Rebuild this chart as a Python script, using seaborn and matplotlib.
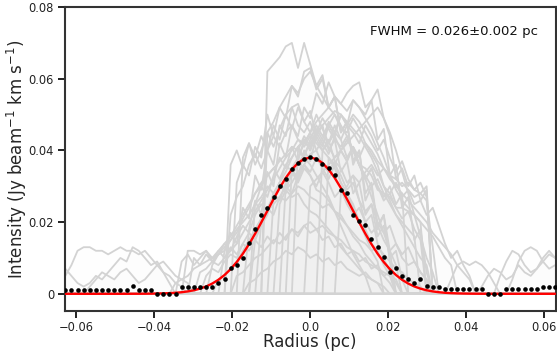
import numpy as np
import pandas as pd
import matplotlib
matplotlib.use("Agg")
import matplotlib.pyplot as plt
import seaborn as sns

# ---------------- data ----------------
STEP = 0.00157                      # radial sampling (pc)
k_index = np.arange(-40, 41)
radius = k_index * STEP

# mean radial profile (black dots), units of 1e-3 Jy beam^-1 km s^-1
mean_profile = [
    1.1, 1.1, 1.1, 1.1, 1.1, 1.1, 1.1, 1.1, 1.1, 1.1, 1.1,      # k=-40..-30
    2.1, 1.1, 1.1, 1.1,                                          # -29..-26
    -0.1, -0.1, -0.1, -0.1,                                      # -25..-22
    2.0, 2.0, 2.0, 2.0, 2.0,                                     # -21..-17
    1.8, 3.0, 4.2, 7.1, 8.0, 10.0, 14.1, 18.0, 22.0, 24.0,       # -16..-7
    27.0, 30.0, 31.9, 34.9, 36.6, 37.7, 38.1, 37.6, 36.1, 35.2,  # -6..3
    33.0, 28.9, 28.1, 21.9, 20.4, 19.1, 15.2, 13.1, 10.2, 6.1,   # 4..13
    7.2, 5.1, 4.2, 3.1, 4.2, 2.2, 2.0, 2.0,                      # 14..21
    1.2, 1.2, 1.2, 1.2, 1.2, 1.2, 1.2,                           # 22..28
    -0.1, -0.1, -0.1,                                            # 29..31
    1.2, 1.2, 1.2, 1.2, 1.2, 1.2,                                # 32..37
    2.0, 2.0, 2.0,                                               # 38..40
]

# individual cut profiles (grey): (first sample index k, values in 1e-3 units)
profile_segments = [
    (-7, [62, 64, 66, 69, 70, 63, 70, 64, 58, 61, 52, 55, 45, 48, 36, 40, 26, 30, 18, 22, 9]),
    (-12, [31, 36, 33, 41, 38, 50, 44, 52, 49, 58, 55, 62, 63, 57, 60, 52, 55, 45, 48, 37, 40, 28, 31, 19, 22, 12]),
    (-10, [18, 26, 22, 34, 30, 42, 38, 47, 44, 52, 49, 56, 53, 59, 55, 53, 56, 58, 59, 52, 54, 43, 46, 33, 36, 24, 27, 15, 18, 6]),
    (-6, [26, 31, 28, 35, 32, 40, 37, 44, 41, 47, 44, 50, 47, 54, 52, 50, 54, 57, 49, 44, 32, 35, 30, 33, 26, 29]),
    (-14, [12, 17, 14, 24, 21, 33, 29, 40, 36, 47, 44, 52, 53, 48, 51, 44, 47, 40, 43, 34, 37, 28, 31, 22, 25, 16, 19, 10, 12, 4]),
    (-11, [38, 42, 36, 40, 45, 41, 46, 50, 52, 47, 45, 48, 43, 40, 43, 37, 35, 31, 33, 26, 20, 22, 14, 10, 6]),
    (-13, [22, 27, 30, 36, 39, 35, 40, 44, 41, 45, 47, 43, 42, 45, 40, 36, 34, 37, 31, 28, 25, 20, 18, 14, 12, 8, 5]),
    (-9, [15, 19, 22, 28, 31, 36, 38, 41, 43, 40, 45, 49, 46, 43, 41, 44, 40, 36, 33, 30, 32, 28, 25, 22, 20, 18, 16]),
    (-8, [20, 24, 27, 31, 34, 38, 41, 38, 43, 47, 44, 47, 50, 46, 45, 49, 46, 42, 40, 37, 35, 33, 32, 30, 31, 29, 28, 30]),
    (-5, [25, 29, 31, 34, 36, 39, 40, 43, 41, 38, 40, 43, 40, 36, 35, 33, 29, 28, 27, 24, 24, 23, 22, 20]),
    (-16, [8, 11, 12, 15, 17, 21, 24, 28, 30, 33, 35, 32, 36, 34, 31, 35, 33, 29, 28, 26, 23, 22, 19, 16, 14, 11, 9, 7, 5, 3]),
    (-20, [12, 12, 11, 12, 10, 11, 13, 15, 18, 20, 22, 25, 27, 30, 28, 31, 29, 27, 28, 25, 23, 22, 20, 18, 16, 13, 11, 9, 7, 5, 4, 3]),
    (-15, [4, 5, 7, 9, 12, 15, 18, 21, 23, 25, 27, 26, 28, 30, 29, 27, 26, 24, 25, 23, 21, 19, 17, 15, 14, 12, 13, 11, 9, 7, 6, 4, 3, 2]),
    (-12, [5, 6, 8, 10, 11, 13, 15, 14, 16, 18, 17, 19, 20, 18, 19, 17, 16, 15, 13, 12, 11, 9, 8, 7, 6, 5, 4]),
    (-10, [3, 4, 6, 7, 9, 10, 12, 11, 13, 12, 10, 11, 9, 10, 8, 9, 7, 6, 5, 6, 4, 3, 2]),
    (-3, [35, 38, 42, 45, 48, 50, 52, 55, 53, 51, 54, 52, 49, 46, 42, 38, 33, 29, 26, 24, 22, 20, 18, 16, 13, 10, 8]),
    (2, [40, 42, 45, 43, 47, 50, 48, 45, 42, 39, 35, 33, 30, 28, 26, 24, 22, 20, 17, 15, 13, 11, 8, 6, 4]),
    (-18, [6, 7, 9, 8, 10, 12, 14, 17, 20, 23, 26, 29, 32, 35, 38, 40, 43, 41, 44, 42, 40, 38, 35, 31, 28, 24, 20, 16, 12, 9]),
    (-4, [30, 33, 36, 39, 42, 45, 47, 49, 51, 50, 48, 46, 44, 41, 38, 34, 30, 26, 22, 19, 16, 13, 10, 8]),
    (-22, [3, 4, 5, 7, 8, 9, 10, 12, 14, 16, 19, 22, 25, 28, 31, 33, 35, 37, 39, 41, 40, 38, 36, 33, 30, 27, 23, 19, 15, 11, 8, 5]),
    (-7, [45, 48, 52, 55, 58, 56, 60, 62, 58, 55, 52, 50, 47, 44, 40, 36, 32, 27, 22, 17, 12, 8]),
    (0, [30, 32, 34, 36, 38, 40, 42, 44, 46, 48, 50, 52, 49, 45, 40, 34, 28, 22, 16, 10, 6]),
    (5, [28, 30, 33, 31, 34, 36, 33, 35, 32, 30, 31, 29, 27, 28, 26, 13]),
    (-13, [36, 40, 35, 42, 38, 44, 40, 47, 43, 50, 46, 52, 48, 45, 50, 46, 42, 47, 43, 38, 41, 36, 32, 35, 30, 27, 30, 25, 28]),
    (-21, [9, 11, 8, 10, 12, 9, 11, 14, 12, 16, 19, 17, 22, 25, 23, 28, 26, 31, 34, 32, 36, 33, 30, 34, 31, 27, 29, 25, 22, 24, 20, 17, 19, 15, 12, 14, 10, 8, 9, 6, 4]),
    (-2, [40, 44, 41, 46, 43, 48, 45, 50, 47, 45, 42, 47, 44, 40, 43, 38, 34, 37, 32, 29, 31, 27]),
    (-17, [5, 7, 6, 9, 11, 10, 14, 17, 15, 20, 24, 22, 27, 30, 28, 33, 36, 34, 38, 35, 32, 36, 33, 29, 31, 26, 23, 25, 20, 17, 19, 14, 11, 13, 9, 6, 4]),
    (3, [38, 36, 40, 37, 41, 38, 42, 39, 36, 30, 28, 31, 27, 29, 25, 26, 22, 24, 19, 14, 10, 12, 8, 5]),
    (-19, [10, 8, 11, 9, 12, 10, 13, 11, 14, 12, 15, 13, 16, 14, 17, 15, 18, 16, 19, 17, 18, 15, 16, 13, 14, 11, 12, 9, 10, 7, 8, 5, 6, 3]),
    (-9, [25, 30, 27, 33, 38, 35, 41, 37, 43, 40, 45, 42, 39, 44, 40, 37, 41, 36, 32, 35, 30, 26, 28, 24, 21, 23, 18, 15]),
    (23, [4, 8, 9, 8, 9, 8, 6, 3, 0, 0, 4, 9, 12, 13, 12, 9, 7, 8]),
    (31, [5, 9, 12, 11, 8, 6, 7, 10, 12, 10]),
    (28, [2, 5, 7, 6, 4, 5, 8, 6, 5, 7, 9, 11, 10]),
    (-40, [5, 8, 12, 13, 13, 12, 12, 11, 12, 13, 12, 12, 11, 12, 10, 8, 6, 3]),
    (-40, [7, 5, 3, 2, 3, 5, 4, 6, 8, 10, 9, 13, 12, 10, 8, 9, 6, 5, 3, 2]),
    (-36, [2, 4, 6, 5, 4, 6, 7, 5, 3, 4, 6, 8, 9, 7, 5, 4, 3]),
]

# Gaussian fit parameters
fit_amplitude = 0.038
fit_center = 0.0
fit_fwhm = 0.026
fit_fwhm_err = 0.002

x_ticks = [-0.06, -0.04, -0.02, 0.0, 0.02, 0.04, 0.06]
x_tick_labels = ["\u22120.06", "\u22120.04", "\u22120.02", "0.0", "0.02", "0.04", "0.06"]
y_ticks = [0.0, 0.02, 0.04, 0.06, 0.08]
y_tick_labels = ["0", "0.02", "0.04", "0.06", "0.08"]

# ---------------- build tables ----------------
rows = []
profiles = []
for i, (start, vals) in enumerate(profile_segments):
    arr = np.zeros(len(k_index))
    j0 = start + 40
    arr[j0:j0 + len(vals)] = np.array(vals) * 1e-3
    profiles.append(arr)
    for r, v in zip(radius, arr):
        rows.append({"radius": r, "intensity": v, "profile": i})
df_prof = pd.DataFrame(rows)

mean_arr = np.array(mean_profile) * 1e-3
sigma = fit_fwhm / (2 * np.sqrt(2 * np.log(2)))
fit_curve = fit_amplitude * np.exp(-(radius - fit_center) ** 2 / (2 * sigma ** 2))

# ---------------- plot ----------------
sns.set_style("ticks")
plt.rcParams["font.family"] = ["DejaVu Sans"]

fig = plt.figure(figsize=(5.57, 3.56), dpi=100)
ax = fig.add_axes([0.1158, 0.1264, 0.8824, 0.8539])

for arr in profiles:
    ax.fill_between(radius, 0, arr, color="#f0f0f0", alpha=0.04, lw=0, zorder=1)

sns.lineplot(data=df_prof, x="radius", y="intensity", units="profile",
             estimator=None, color="lightgrey", lw=1.3, legend=False, ax=ax,
             zorder=2)
sns.lineplot(x=radius, y=fit_curve, color="red", lw=1.7, ax=ax, zorder=3)
sns.scatterplot(x=radius, y=mean_arr, color="black", s=11, linewidth=0,
                ax=ax, zorder=4)

ax.set_xlim(-0.063, 0.063)
ax.set_ylim(-0.0048, 0.08)
ax.set_xticks(x_ticks)
ax.set_xticklabels(x_tick_labels)
ax.set_yticks(y_ticks)
ax.set_yticklabels(y_tick_labels)
ax.tick_params(axis="both", direction="out", length=5, width=1.4,
               labelsize=8.3, pad=2.5, colors="#222222", labelcolor="#222222")

for side in ["left", "bottom", "top", "right"]:
    ax.spines[side].set_visible(True)
    ax.spines[side].set_color("#333333")
    ax.spines[side].set_linewidth(1.5)

ax.set_xlabel("Radius (pc)", fontsize=12, labelpad=-1)
ax.set_ylabel(r"Intensity (Jy beam$^{-1}$ km s$^{-1}$)", fontsize=12, labelpad=-0.5)

ax.text(0.963, 0.921, f"FWHM = {fit_fwhm:.3f}\u00b1{fit_fwhm_err:.3f} pc",
        transform=ax.transAxes, ha="right", va="center", fontsize=9.5,
        color="#111111")

fig.savefig("out.png", dpi=100)
